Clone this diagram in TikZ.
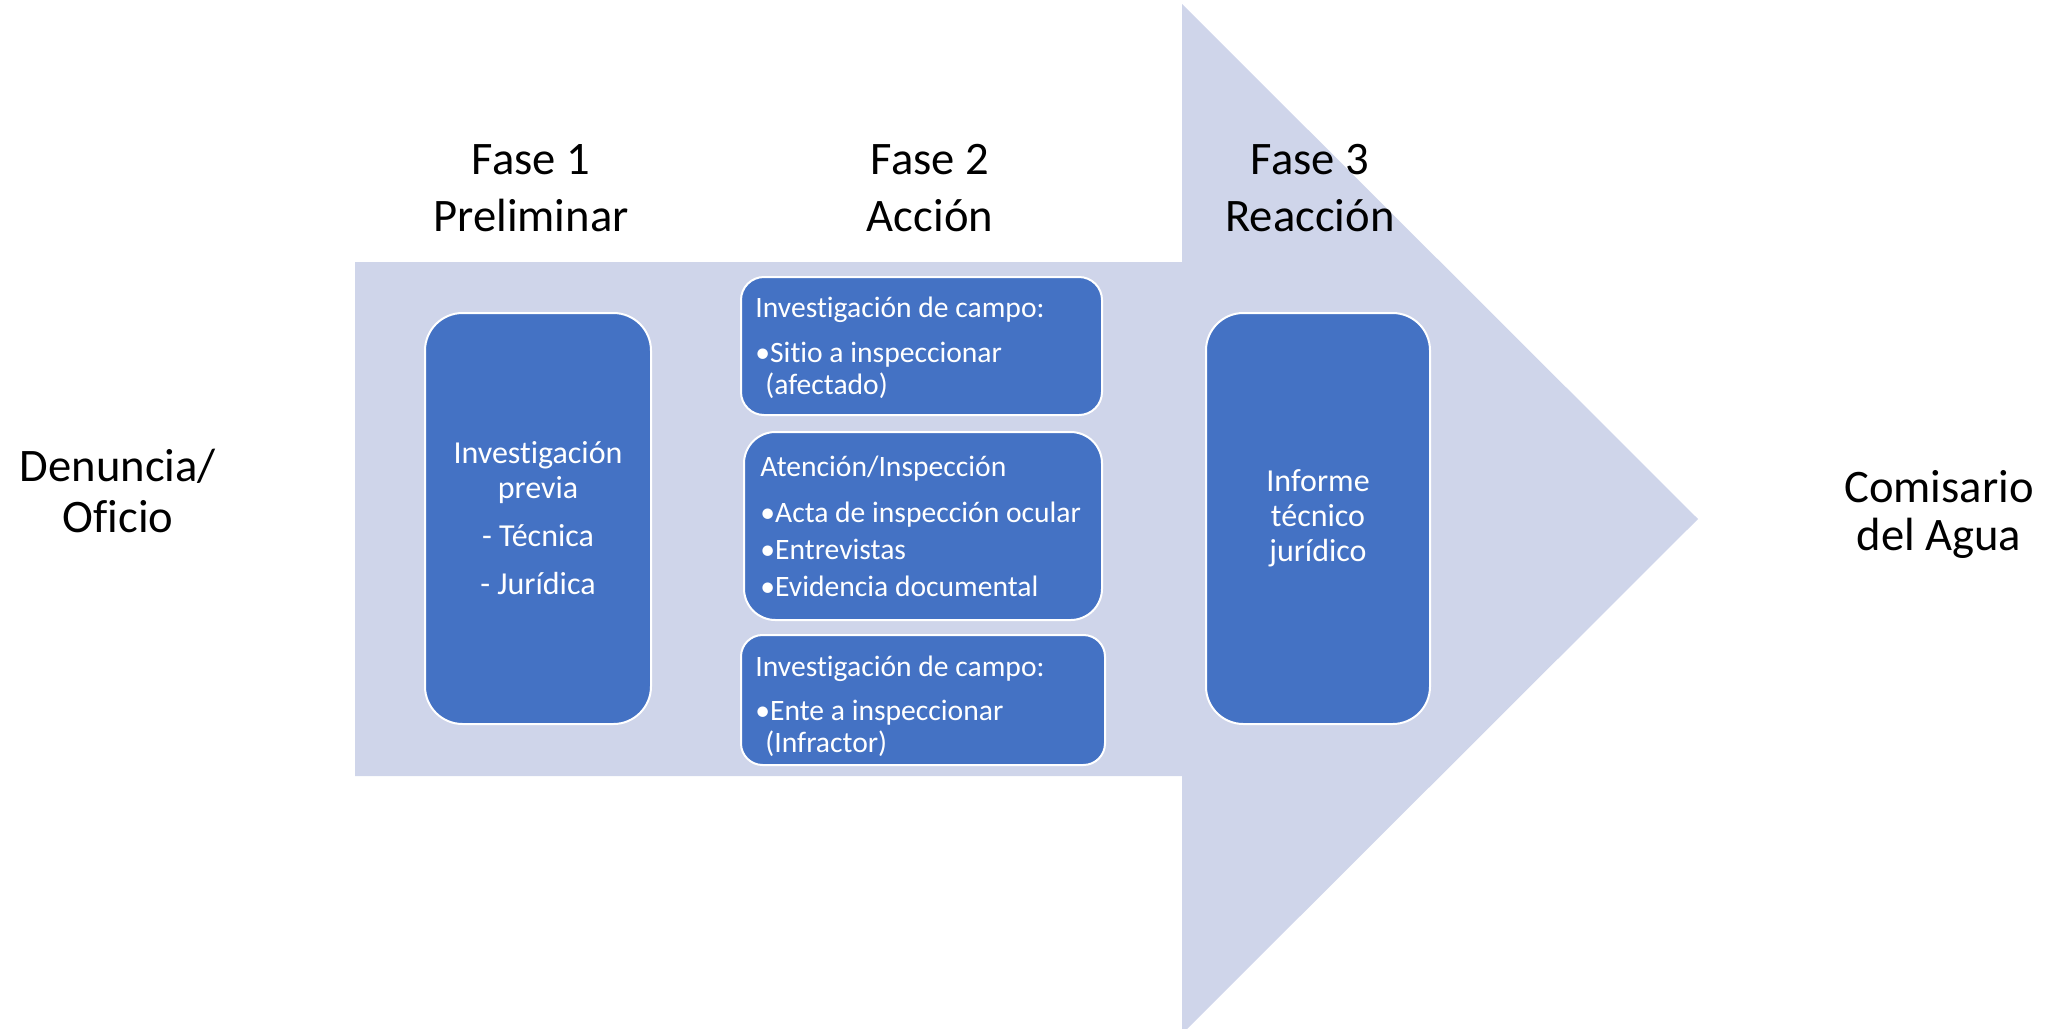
\documentclass[tikz,border=0pt]{standalone}
\usepackage{fontspec}
\setmainfont{Carlito}[Ligatures=NoCommon]
\usetikzlibrary{positioning}
\definecolor{arrowfill}{RGB}{207,213,234}
\definecolor{boxblue}{RGB}{68,114,196}
\tikzset{
  phase/.style={align=center, inner sep=0pt, font=\fontsize{23.3}{28.5}\selectfont},
  stepbox/.style={rectangle, fill=boxblue, draw=white, line width=1pt},
  boxtxt/.style={text=white, inner sep=0pt, align=center, font=\fontsize{16}{17.5}\selectfont},
  itemtxt/.style={text=white, inner sep=0pt, align=left, font=\fontsize{14.8}{16}\selectfont}
}
\begin{document}
\begin{tikzpicture}[x=0.5pt, y=-0.5pt]
\useasboundingbox (0,0) rectangle (2053,1029);
\fill[arrowfill] (355,262) -- (1182,262) -- (1182,4) -- (1698,519) -- (1182,1034) -- (1182,776) -- (355,776) -- cycle;
\node[phase, anchor=base] (fase1) at (531,231.5) {Fase 1\\Preliminar};
\node[phase, anchor=base] (fase2) at (930,231.5) {Fase 2\\Acción};
\node[phase, anchor=base] (fase3) at (1310,231.5) {Fase 3\\Reacción};
\node[phase, anchor=base, font=\fontsize{23.3}{25.5}\selectfont] (src) at (118,532) {Denuncia/\\Oficio};
\node[phase, anchor=base, font=\fontsize{23.3}{24}\selectfont] (dst) at (1939,550) {Comisario\\del Agua};
\node[stepbox, boxtxt, rounded corners=18.8pt, minimum width=113pt, minimum height=205.5pt] (bx1) at (538,518.5) {Investigación\\previa\\[6.5pt]- Técnica\\[6.5pt]- Jurídica};
\node[stepbox, rounded corners=11.5pt, minimum width=180.5pt, minimum height=69pt] (bxA) at (921.5,346) {};
\node[stepbox, rounded corners=15.7pt, minimum width=179pt, minimum height=94pt] (bxB) at (923,526) {};
\node[stepbox, rounded corners=10.8pt, minimum width=182pt, minimum height=65pt] (bxC) at (923,700) {};
\node[itemtxt, right=7.5pt of bxA.west, yshift=-1pt] (txA) {Investigación de campo:\\[6.5pt]•Sitio a inspeccionar\\\hspace*{5pt}(afectado)};
\node[itemtxt, right=8.5pt of bxB.west] (txB) {Atención/Inspección\\[7pt]•Acta de inspección ocular\\[2.5pt]•Entrevistas\\[2.5pt]•Evidencia documental};
\node[itemtxt, right=7.5pt of bxC.west, yshift=-3pt] (txC) {Investigación de campo:\\[6pt]•Ente a inspeccionar\\\hspace*{5pt}(Infractor)};
\node[stepbox, boxtxt, rounded corners=18.7pt, minimum width=112pt, minimum height=205.5pt] (bx3) at (1318,518.5) {Informe\\técnico\\jurídico};
\end{tikzpicture}
\end{document}
